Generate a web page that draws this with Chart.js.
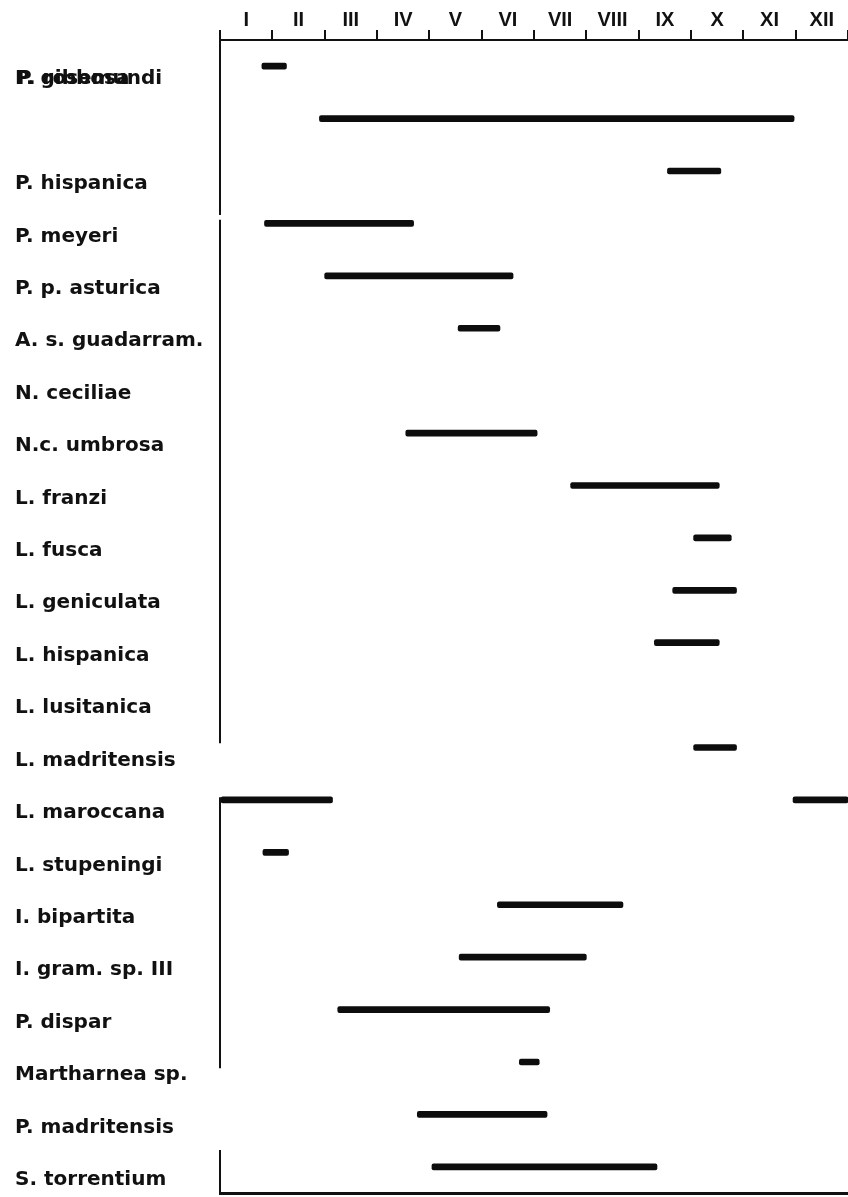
<!DOCTYPE html>
<html>
<head>
<meta charset="utf-8">
<script src="https://cdn.jsdelivr.net/npm/chart.js@4.4.0/dist/chart.umd.min.js"></script>
<style>
  html, body { margin: 0; padding: 0; background: #fff; overflow: hidden; }
  canvas { display: block; }
</style>
</head>
<body>
<canvas id="phenology" width="848" height="1197"></canvas>
<script>
// months on the top axis
const months = ['I', 'II', 'III', 'IV', 'V', 'VI', 'VII', 'VIII', 'IX', 'X', 'XI', 'XII'];

// species, top to bottom (the second name is printed over the first one in the original)
const species = [
  'P. gibbosa', 'P. rosemundi', 'P. hispanica', 'P. meyeri', 'P. p. asturica',
  'A. s. guadarram.', 'N. ceciliae', 'N.c. umbrosa', 'L. franzi', 'L. fusca',
  'L. geniculata', 'L. hispanica', 'L. lusitanica', 'L. madritensis', 'L. maroccana',
  'L. stupeningi', 'I. bipartita', 'I. gram. sp. III', 'P. dispar', 'Martharnea sp.',
  'P. madritensis', 'S. torrentium'
];

// flight period, in months from the start of January
const flightStart = [0.8, 1.9, 8.55, 0.85, 2.0, 4.55, null, 3.55, 6.7, 9.05, 8.65, 8.3, null, 9.05, 0, 0.82, 5.3, 4.57, 2.25, 5.72, 3.77, 4.05];
const flightEnd = [1.27, 10.97, 9.57, 3.7, 5.6, 5.35, null, 6.06, 9.54, 9.77, 9.87, 9.54, null, 9.87, 2.15, 1.31, 7.7, 7.0, 6.3, 6.1, 6.25, 8.35];

// second period in the same year (only L. maroccana, winter flight)
const lateStart = [null, null, null, null, null, null, null, null, null, null, null, null, null, null, 10.95, null, null, null, null, null, null, null];
const lateEnd = [null, null, null, null, null, null, null, null, null, null, null, null, null, null, 12, null, null, null, null, null, null, null];

// pieces of the left axis line that survive in the print (in row units)
const axisPieces = [[-0.5, 2.84], [2.93, 12.92], [13.95, 19.12], [20.68, 21.5]];

const toRanges = (a, b) => a.map((s, i) => (s == null ? null : [s, b[i]]));

const labelFont = { family: 'DejaVu Sans', weight: 'bold', size: 20 };
const rowShift = 13;

const brokenAxis = {
  id: 'brokenAxis',
  afterDraw(chart) {
    const { ctx, chartArea } = chart;
    const y = chart.scales.y;
    ctx.save();
    ctx.strokeStyle = '#111';
    ctx.lineWidth = 2;
    ctx.beginPath();
    axisPieces.forEach(([a, b]) => {
      ctx.moveTo(chartArea.left, y.getPixelForValue(a));
      ctx.lineTo(chartArea.left, y.getPixelForValue(b));
    });
    ctx.stroke();

    // overprinted label of the second row
    ctx.fillStyle = '#111';
    ctx.font = 'bold 20px "DejaVu Sans"';
    ctx.textAlign = 'left';
    ctx.textBaseline = 'middle';
    ctx.fillText(species[1], y.left + 2, y.getPixelForValue(0) + rowShift);
    ctx.restore();
  }
};

new Chart(document.getElementById('phenology'), {
  type: 'bar',
  data: {
    labels: species,
    datasets: [
      {
        label: 'flight period',
        data: toRanges(flightStart, flightEnd),
        backgroundColor: '#0d0d0d',
        barThickness: 6,
        borderRadius: 2,
        borderSkipped: false,
        grouped: false
      },
      {
        label: 'second period',
        data: toRanges(lateStart, lateEnd),
        backgroundColor: '#0d0d0d',
        barThickness: 6,
        borderRadius: 2,
        borderSkipped: false,
        grouped: false
      }
    ]
  },
  options: {
    indexAxis: 'y',
    responsive: false,
    animation: false,
    layout: { padding: { left: 15, top: 0, right: 0, bottom: 4 } },
    plugins: {
      legend: { display: false },
      tooltip: { enabled: false }
    },
    scales: {
      x: {
        type: 'linear',
        position: 'top',
        min: 0,
        max: 12,
        afterFit: (scale) => { scale.height = 40; scale.paddingRight = 0; scale.paddingLeft = 0; },
        ticks: {
          stepSize: 0.5,
          autoSkip: false,
          maxRotation: 0,
          padding: -2,
          color: '#111',
          font: { family: 'Liberation Sans', weight: 'bold', size: 20 },
          callback: (v) => (v % 1 === 0.5 ? months[Math.floor(v)] : '')
        },
        grid: {
          drawOnChartArea: false,
          tickLength: 10,
          lineWidth: 2,
          color: (c) => (c.tick && Number.isInteger(c.tick.value) ? '#111' : 'rgba(0,0,0,0)')
        },
        border: { display: true, color: '#111', width: 2 }
      },
      xBottom: {
        type: 'linear',
        position: 'bottom',
        min: 0,
        max: 12,
        afterFit: (scale) => { scale.height = 0; scale.paddingRight = 0; scale.paddingLeft = 0; },
        ticks: { display: false },
        grid: { display: false, drawTicks: false },
        border: { display: true, color: '#111', width: 3 }
      },
      y: {
        type: 'category',
        afterFit: (scale) => { scale.width = 205; scale.paddingTop = 0; scale.paddingBottom = 0; },
        ticks: {
          crossAlign: 'far',
          labelOffset: rowShift,
          color: '#111',
          font: labelFont,
          callback: (v, i) => (i === 1 ? '' : species[i])
        },
        grid: { display: false },
        border: { display: false }
      }
    }
  },
  plugins: [brokenAxis]
});
</script>
</body>
</html>
